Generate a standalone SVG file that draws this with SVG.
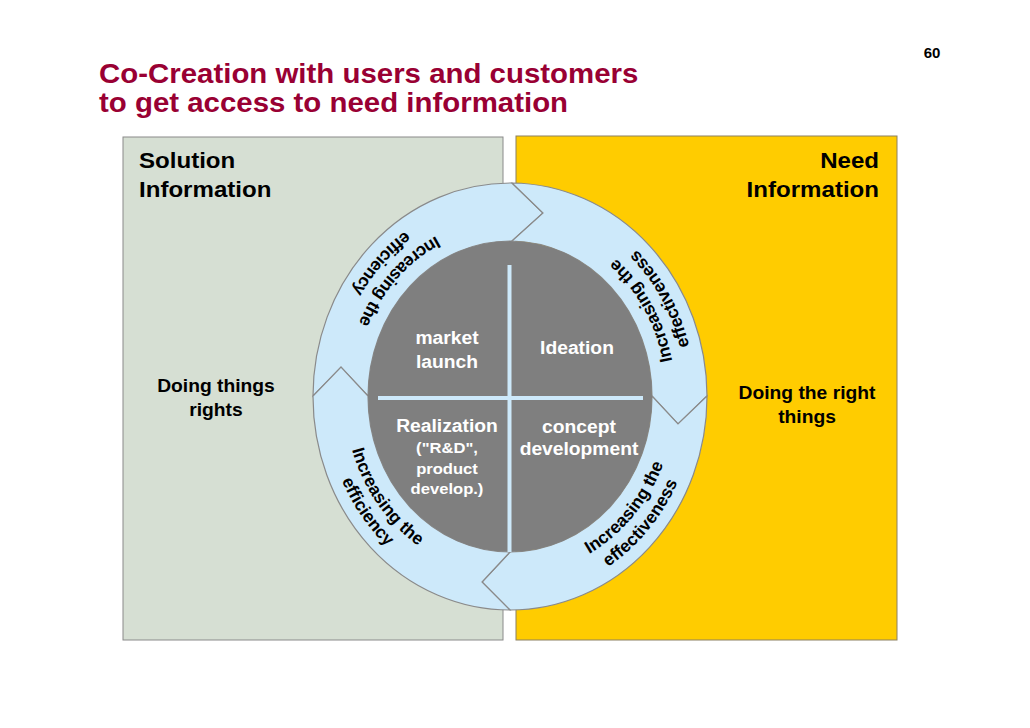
<svg xmlns="http://www.w3.org/2000/svg" width="1030" height="728" viewBox="0 0 1030 728">
  <style>
    text { font-family: "Liberation Sans", Arial, Helvetica, sans-serif; font-weight: bold; }
    .title { fill: #990033; font-size: 27.5px; }
    .head { fill: #000; font-size: 22.5px; }
    .side { fill: #000; font-size: 18px; text-anchor: middle; }
    .quad { fill: #fff; font-size: 18px; text-anchor: middle; }
    .quads { fill: #fff; font-size: 15.5px; text-anchor: middle; }
    .arc { fill: #000; font-size: 17.5px; text-anchor: middle; }
    .seg { fill: #cde9fa; stroke: #8a8a8a; stroke-width: 1.2; stroke-linejoin: miter; }
    .div { stroke: #cde9fa; stroke-width: 4; }
  </style>
  <defs>
    <path id="ul1" d="M 538.7 219.9 A 165.5 179.3 0 0 0 347.0 427.6"/>
    <path id="ul2" d="M 542.2 198.9 A 185.2 200.7 0 0 0 327.6 431.4"/>
    <path id="ur1" d="M 662.3 466.6 A 165.5 179.3 0 0 0 518.7 217.5"/>
    <path id="ur2" d="M 680.5 474.9 A 185.2 200.7 0 0 0 519.7 196.1"/>
    <path id="ll1" d="M 351.7 344.1 A 165.5 179.3 0 0 0 518.7 575.6"/>
    <path id="ll2" d="M 332.9 337.8 A 185.2 200.7 0 0 0 519.7 596.9"/>
    <path id="lr1" d="M 487.0 574.1 A 165.5 179.3 0 0 0 671.9 359.2"/>
    <path id="lr2" d="M 484.2 595.3 A 185.2 200.7 0 0 0 691.2 354.8"/>
  </defs>

  <rect width="1030" height="728" fill="#ffffff"/>

  <text class="head" x="932" y="58" style="font-size:15px" text-anchor="middle">60</text>
  <text class="title" transform="translate(99 83) scale(1.07 1)">Co-Creation with users and customers</text>
  <text class="title" transform="translate(99 112) scale(1.07 1)">to get access to need information</text>

  <g id="solution-panel">
    <rect x="123" y="137" width="380" height="503" fill="#d6dfd3" stroke="#8a8a8a" stroke-width="1"/>
    <text class="head" transform="translate(139 168) scale(1.07 1)">Solution</text>
    <text class="head" transform="translate(139 197) scale(1.07 1)">Information</text>
    <text class="side" transform="translate(216 392) scale(1.07 1)">Doing things</text>
    <text class="side" transform="translate(216 416) scale(1.07 1)">rights</text>
  </g>

  <g id="need-panel">
    <rect x="516" y="136" width="381" height="504" fill="#ffcc00" stroke="#8c8060" stroke-width="1"/>
    <text class="head" text-anchor="end" transform="translate(879 168) scale(1.07 1)">Need</text>
    <text class="head" text-anchor="end" transform="translate(879 197) scale(1.07 1)">Information</text>
    <text class="side" transform="translate(807 399) scale(1.07 1)">Doing the right</text>
    <text class="side" transform="translate(807 423) scale(1.07 1)">things</text>
  </g>

  <g id="connectors">
    <g id="arrow-top-left">
      <path class="seg" d="M 313 396 A 197 213.5 0 0 1 512 183 L 543 213 L 512 241 A 142 155.5 0 0 0 368 396 L 341 367 Z"/>
    </g>
    <g id="arrow-top-right">
      <path class="seg" d="M 512 183 A 197 213.5 0 0 1 707 396 L 678 424 L 652 396 A 142 155.5 0 0 0 512 241 L 543 213 Z"/>
    </g>
    <g id="arrow-bottom-right">
      <path class="seg" d="M 707 396 A 197 213.5 0 0 1 510 610 L 482 582 L 510 552 A 142 155.5 0 0 0 652 396 L 678 424 Z"/>
    </g>
    <g id="arrow-bottom-left">
      <path class="seg" d="M 510 610 A 197 213.5 0 0 1 313 396 L 341 367 L 368 396 A 142 155.5 0 0 0 510 552 L 482 582 Z"/>
    </g>
  </g>

  <g id="arc-labels">
    <text class="arc"><textPath href="#ul1" startOffset="50%">Increasing the</textPath></text>
    <text class="arc"><textPath href="#ul2" startOffset="50%">efficiency</textPath></text>
    <text class="arc"><textPath href="#ur1" startOffset="50%">Increasing the</textPath></text>
    <text class="arc"><textPath href="#ur2" startOffset="50%">effectiveness</textPath></text>
    <text class="arc"><textPath href="#ll1" startOffset="50%">Increasing the</textPath></text>
    <text class="arc"><textPath href="#ll2" startOffset="50%">efficiency</textPath></text>
    <text class="arc"><textPath href="#lr1" startOffset="50%">Increasing the</textPath></text>
    <text class="arc"><textPath href="#lr2" startOffset="50%">effectiveness</textPath></text>
  </g>

  <g id="core">
    <ellipse cx="510" cy="396.5" rx="142" ry="155.5" fill="#7f7f7f"/>
    <line class="div" x1="509.5" y1="265" x2="509.5" y2="552"/>
    <line class="div" x1="378" y1="398" x2="643" y2="398"/>
  </g>

  <g id="market-launch">
    <text class="quad" transform="translate(447 344) scale(1.07 1)">market</text>
    <text class="quad" transform="translate(447 368) scale(1.07 1)">launch</text>
  </g>
  <g id="ideation">
    <text class="quad" transform="translate(577 354) scale(1.07 1)">Ideation</text>
  </g>
  <g id="realization">
    <text class="quad" transform="translate(447 432) scale(1.07 1)">Realization</text>
    <text class="quads" transform="translate(447 453) scale(1.07 1)">("R&amp;D",</text>
    <text class="quads" transform="translate(447 474) scale(1.07 1)">product</text>
    <text class="quads" transform="translate(447 494) scale(1.07 1)">develop.)</text>
  </g>
  <g id="concept-development">
    <text class="quad" transform="translate(579 433) scale(1.07 1)">concept</text>
    <text class="quad" transform="translate(579 455) scale(1.07 1)">development</text>
  </g>
</svg>
